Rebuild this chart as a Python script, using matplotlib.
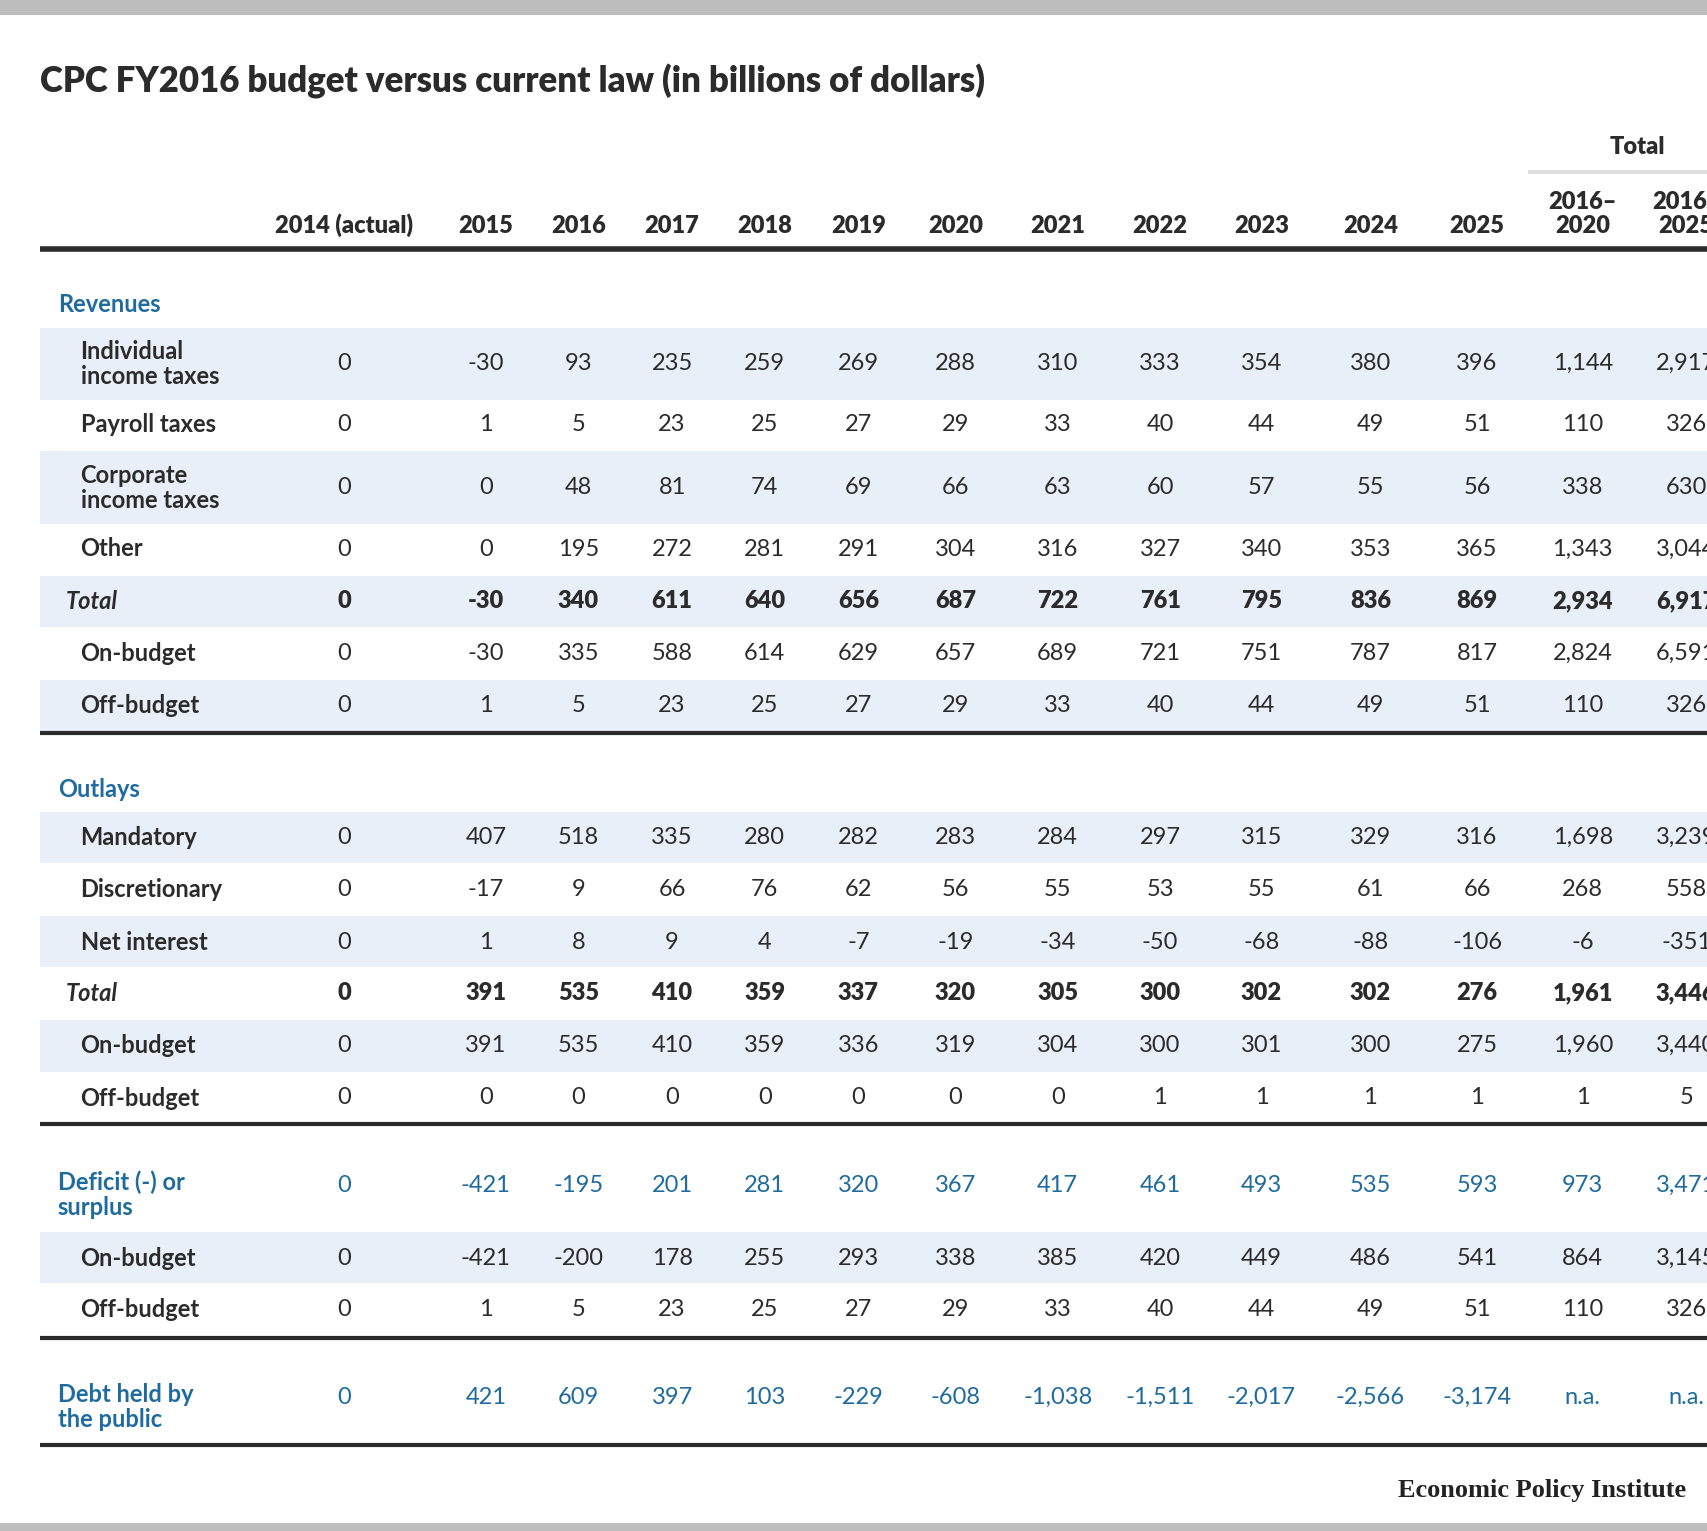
import matplotlib.pyplot as plt
from matplotlib.patches import Rectangle

plt.rcParams['font.family'] = ['Lato', 'DejaVu Sans']

# --- data ---
columns = ['2014 (actual)', '2015', '2016', '2017', '2018', '2019', '2020', '2021',
           '2022', '2023', '2024', '2025', '2016–\n2020', '2016–\n2025']

revenue_labels = ['Individual\nincome taxes', 'Payroll taxes', 'Corporate\nincome taxes', 'Other',
                  'Total', 'On-budget', 'Off-budget']
revenue_values = [
    ['0', '-30', '93', '235', '259', '269', '288', '310', '333', '354', '380', '396', '1,144', '2,917'],
    ['0', '1', '5', '23', '25', '27', '29', '33', '40', '44', '49', '51', '110', '326'],
    ['0', '0', '48', '81', '74', '69', '66', '63', '60', '57', '55', '56', '338', '630'],
    ['0', '0', '195', '272', '281', '291', '304', '316', '327', '340', '353', '365', '1,343', '3,044'],
    ['0', '-30', '340', '611', '640', '656', '687', '722', '761', '795', '836', '869', '2,934', '6,917'],
    ['0', '-30', '335', '588', '614', '629', '657', '689', '721', '751', '787', '817', '2,824', '6,591'],
    ['0', '1', '5', '23', '25', '27', '29', '33', '40', '44', '49', '51', '110', '326'],
]
outlay_labels = ['Mandatory', 'Discretionary', 'Net interest', 'Total', 'On-budget', 'Off-budget']
outlay_values = [
    ['0', '407', '518', '335', '280', '282', '283', '284', '297', '315', '329', '316', '1,698', '3,239'],
    ['0', '-17', '9', '66', '76', '62', '56', '55', '53', '55', '61', '66', '268', '558'],
    ['0', '1', '8', '9', '4', '-7', '-19', '-34', '-50', '-68', '-88', '-106', '-6', '-351'],
    ['0', '391', '535', '410', '359', '337', '320', '305', '300', '302', '302', '276', '1,961', '3,446'],
    ['0', '391', '535', '410', '359', '336', '319', '304', '300', '301', '300', '275', '1,960', '3,440'],
    ['0', '0', '0', '0', '0', '0', '0', '0', '1', '1', '1', '1', '1', '5'],
]
deficit_labels = ['Deficit (-) or\nsurplus', 'On-budget', 'Off-budget']
deficit_values = [
    ['0', '-421', '-195', '201', '281', '320', '367', '417', '461', '493', '535', '593', '973', '3,471'],
    ['0', '-421', '-200', '178', '255', '293', '338', '385', '420', '449', '486', '541', '864', '3,145'],
    ['0', '1', '5', '23', '25', '27', '29', '33', '40', '44', '49', '51', '110', '326'],
]
debt_label = 'Debt held by\nthe public'
debt_values = ['0', '421', '609', '397', '103', '-229', '-608', '-1,038', '-1,511', '-2,017',
               '-2,566', '-3,174', 'n.a.', 'n.a.']

# --- layout (reference measured at 1568 wide, scaled to 1708) ---
S = 1708 / 1568
W, H = 1708, 1531
BLUE = '#1f6b9e'
DARK = '#2b2b2b'
BAND = '#e8eff8'
FS = 17
col_x = [316, 446, 531, 617, 702, 788, 877, 971, 1065, 1158, 1258, 1356, 1453, 1548]

fig = plt.figure(figsize=(W / 100, H / 100), dpi=100)
ax = fig.add_axes([0, 0, 1, 1])
ax.set_xlim(0, W)
ax.set_ylim(H, 0)
ax.axis('off')


def hline(y, lw, color=DARK, x0=37):
    ax.plot([x0 * S, W], [y * S, y * S], color=color, lw=lw, solid_capstyle='butt')


def band(y0, y1):
    ax.add_patch(Rectangle((37 * S, y0 * S), W - 37 * S, (y1 - y0) * S, color=BAND, lw=0))


def row(label, values, y, indent=74, color=DARK, weight='normal', style='normal'):
    ax.text(indent * S, y * S, label, ha='left', va='center', fontsize=FS, color=color,
            fontweight='bold', fontstyle=style, linespacing=1.1)
    for x, v in zip(col_x, values):
        ax.text(x * S, y * S, v, ha='center', va='center', fontsize=FS, color=color, fontweight=weight)


# gray bars
ax.add_patch(Rectangle((0, 0), W, 14 * S, color='#bdbdbd', lw=0))
ax.add_patch(Rectangle((0, 1398 * S), W, 10 * S, color='#bdbdbd', lw=0))

ax.text(37 * S, 75 * S, 'CPC FY2016 budget versus current law (in billions of dollars)',
        fontsize=25, fontweight='heavy', color=DARK, va='center')

# header
ax.text(1503 * S, 135 * S, 'Total', ha='center', va='center', fontsize=FS, fontweight='heavy', color=DARK)
hline(158, 3, color='#dddddd', x0=1403)
for x, c in zip(col_x, columns):
    ax.text(x * S, 218 * S, c, ha='center', va='bottom', fontsize=FS, fontweight='heavy', color=DARK,
            linespacing=1.15)
hline(229, 4)

# revenues
ax.text(53 * S, 280 * S, 'Revenues', fontsize=FS, fontweight='bold', color=BLUE, va='center')
rev_y = [334, 390, 448, 504, 552, 600, 648]
rev_bands = [(301, 367), None, (414, 481), None, (529, 576), None, (624, 672)]
for lab, vals, y, b in zip(revenue_labels, revenue_values, rev_y, rev_bands):
    if b:
        band(*b)
    if lab == 'Total':
        row(lab, vals, y, indent=60, weight='heavy', style='italic')
    else:
        row(lab, vals, y)
hline(673, 3)

# outlays
ax.text(53 * S, 725 * S, 'Outlays', fontsize=FS, fontweight='bold', color=BLUE, va='center')
out_y = [769, 817, 865, 912, 960, 1008]
out_bands = [(745, 792), None, (841, 888), None, (936, 984), None]
for lab, vals, y, b in zip(outlay_labels, outlay_values, out_y, out_bands):
    if b:
        band(*b)
    if lab == 'Total':
        row(lab, vals, y, indent=60, weight='heavy', style='italic')
    else:
        row(lab, vals, y)
hline(1032, 3)

# deficit
def_y = [1097, 1155, 1202]
band(1131, 1178)
ax.text(53 * S, def_y[0] * S, deficit_labels[0], fontsize=FS, fontweight='bold', color=BLUE,
        va='center', linespacing=1.1)
for x, v in zip(col_x, deficit_values[0]):
    ax.text(x * S, 1088 * S, v, ha='center', va='center', fontsize=FS, color=BLUE)
for lab, vals, y in zip(deficit_labels[1:], deficit_values[1:], def_y[1:]):
    row(lab, vals, y)
hline(1228, 3)

# debt
ax.text(53 * S, 1292 * S, debt_label, fontsize=FS, fontweight='bold', color=BLUE,
        va='center', linespacing=1.1)
for x, v in zip(col_x, debt_values):
    ax.text(x * S, 1283 * S, v, ha='center', va='center', fontsize=FS, color=BLUE)
hline(1327, 3)

ax.text(1548 * S, 1368 * S, 'Economic Policy Institute', ha='right', va='center', fontsize=19,
        fontweight='bold', family=['Liberation Serif', 'DejaVu Serif'], color='#222222')

fig.savefig('out.png', dpi=100)
